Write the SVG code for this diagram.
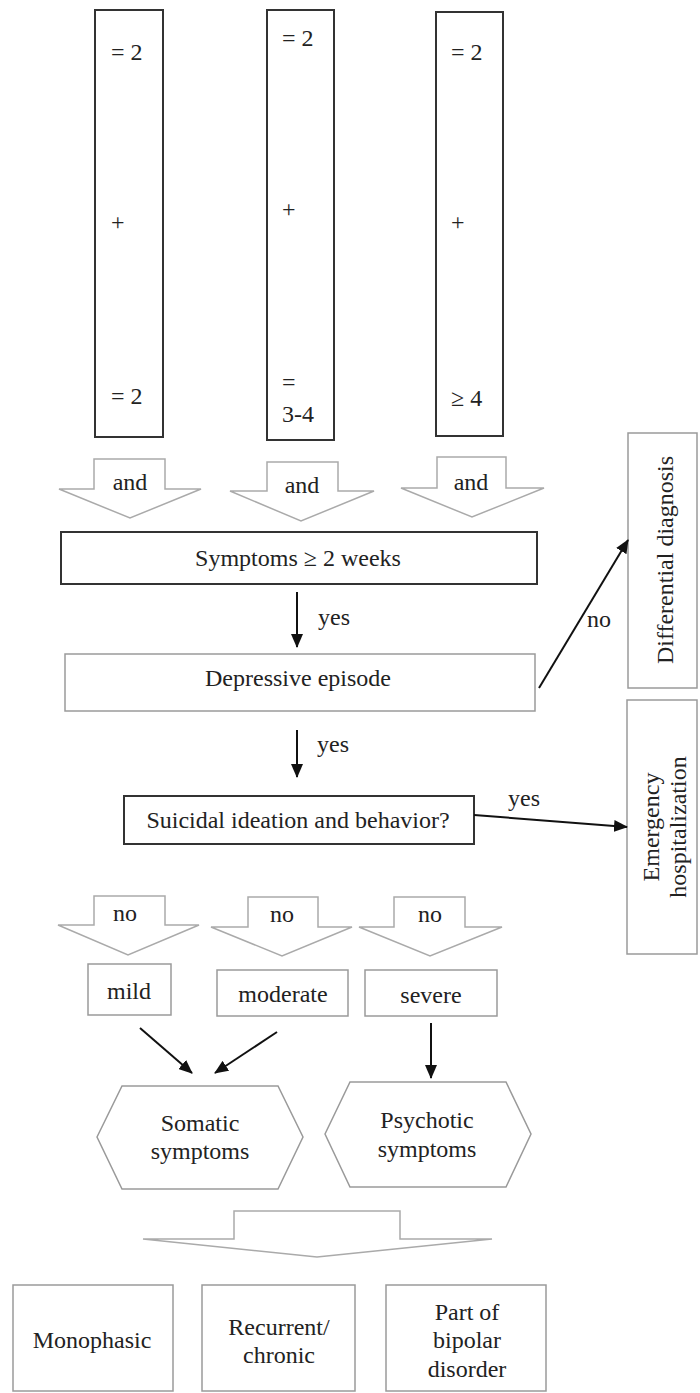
<svg xmlns="http://www.w3.org/2000/svg" width="700" height="1393" viewBox="0 0 700 1393">
<style>
text{font-family:"Liberation Serif","Times New Roman",serif;font-size:24px;fill:#222}
.m{text-anchor:middle}
.dk{fill:#fff;stroke:#333;stroke-width:2}
.lt{fill:#fff;stroke:#9a9a9a;stroke-width:1.5}
.blk{fill:#fff;stroke:#aaa;stroke-width:1.5}
.ar{stroke:#111;stroke-width:2;fill:none;marker-end:url(#ah)}
</style>
<defs>
<marker id="ah" markerUnits="userSpaceOnUse" markerWidth="14" markerHeight="12" refX="13" refY="6" orient="auto">
<path d="M0,0 L14,6 L0,12 Z" fill="#111"/>
</marker>
</defs>
<rect width="700" height="1393" fill="#fff"/>

<g id="criteria1">
<rect class="dk" x="95" y="10" width="68" height="427"/>
<text x="111" y="60">= 2</text>
<text x="111" y="230">+</text>
<text x="111" y="404">= 2</text>
</g>
<g id="criteria2">
<rect class="dk" x="267" y="10" width="67" height="430"/>
<text x="282" y="46">= 2</text>
<text x="282" y="217">+</text>
<text x="282" y="390">=</text>
<text x="282" y="422">3-4</text>
</g>
<g id="criteria3">
<rect class="dk" x="436" y="12" width="67" height="424"/>
<text x="451" y="60">= 2</text>
<text x="451" y="230">+</text>
<text x="451" y="406">≥ 4</text>
</g>

<g id="and1"><path class="blk" d="M94,459 H165 V489 H201 L130,518 L59,489 H94 Z"/><text class="m" x="130" y="490">and</text></g>
<g id="and2"><path class="blk" d="M267,462 H338 V491 H374 L301,521 L230,491 H267 Z"/><text class="m" x="302" y="493">and</text></g>
<g id="and3"><path class="blk" d="M437,457 H506 V488 H544 L472,517 L401,488 H437 Z"/><text class="m" x="471" y="490">and</text></g>

<g id="symptoms"><rect class="dk" x="61" y="532" width="476" height="52"/><text class="m" x="298" y="566">Symptoms ≥ 2 weeks</text></g>
<g id="depressive"><rect class="lt" x="65" y="654" width="470" height="57"/><text class="m" x="298" y="686">Depressive episode</text></g>
<g id="differential"><rect class="lt" x="628" y="433" width="69" height="255"/><text class="m" transform="translate(673,560) rotate(-90)">Differential diagnosis</text></g>
<g id="suicidal"><rect class="dk" x="124" y="796" width="350" height="48"/><text class="m" x="298" y="828">Suicidal ideation and behavior?</text></g>
<g id="emergency"><rect class="lt" x="627" y="700" width="70" height="254"/>
<text class="m" transform="translate(659,827) rotate(-90)">Emergency</text>
<text class="m" transform="translate(686,827) rotate(-90)">hospitalization</text></g>

<g id="no1"><path class="blk" d="M94,896 H165 V925 H199 L128,955 L58,925 H94 Z"/><text class="m" x="125" y="921">no</text></g>
<g id="no2"><path class="blk" d="M248,897 H318 V927 H352 L282,956 L211,927 H248 Z"/><text class="m" x="282" y="922">no</text></g>
<g id="no3"><path class="blk" d="M394,897 H465 V927 H502 L430,956 L359,927 H394 Z"/><text class="m" x="430" y="922">no</text></g>

<g id="mild"><rect class="lt" x="88" y="964" width="83" height="51"/><text class="m" x="129" y="999">mild</text></g>
<g id="moderate"><rect class="lt" x="217" y="970" width="131" height="46"/><text class="m" x="283" y="1002">moderate</text></g>
<g id="severe"><rect class="lt" x="365" y="970" width="132" height="46"/><text class="m" x="431" y="1003">severe</text></g>

<g id="somatic"><polygon class="lt" points="97,1137 122,1086 278,1086 303,1137 278,1189 122,1189"/>
<text class="m" x="200" y="1131">Somatic</text><text class="m" x="200" y="1159">symptoms</text></g>
<g id="psychotic"><polygon class="lt" points="325,1134 350,1082 506,1082 531,1134 506,1187 350,1187"/>
<text class="m" x="427" y="1128">Psychotic</text><text class="m" x="427" y="1157">symptoms</text></g>

<g id="course"><path class="blk" d="M234,1211 H400 V1239 H492 L317,1257 L143,1239 H234 Z"/></g>

<g id="monophasic"><rect class="lt" x="13" y="1285" width="160" height="106"/><text class="m" x="92" y="1348">Monophasic</text></g>
<g id="recurrent"><rect class="lt" x="202" y="1285" width="153" height="106"/><text class="m" x="279" y="1335">Recurrent/</text><text class="m" x="279" y="1363">chronic</text></g>
<g id="bipolar"><rect class="lt" x="386" y="1285" width="160" height="106"/><text class="m" x="467" y="1320">Part of</text><text class="m" x="467" y="1348">bipolar</text><text class="m" x="467" y="1377">disorder</text></g>

<g id="connectors">
<line class="ar" x1="297" y1="592" x2="297" y2="647"/>
<text x="318" y="625">yes</text>
<line class="ar" x1="539" y1="688" x2="628" y2="540"/>
<text x="587" y="627">no</text>
<line class="ar" x1="297" y1="730" x2="297" y2="777"/>
<text x="317" y="752">yes</text>
<line class="ar" x1="474" y1="815" x2="627" y2="827"/>
<text x="508" y="806">yes</text>
<line class="ar" x1="140" y1="1028" x2="192" y2="1073"/>
<line class="ar" x1="277" y1="1032" x2="215" y2="1073"/>
<line class="ar" x1="431" y1="1023" x2="431" y2="1078"/>
</g>
</svg>
